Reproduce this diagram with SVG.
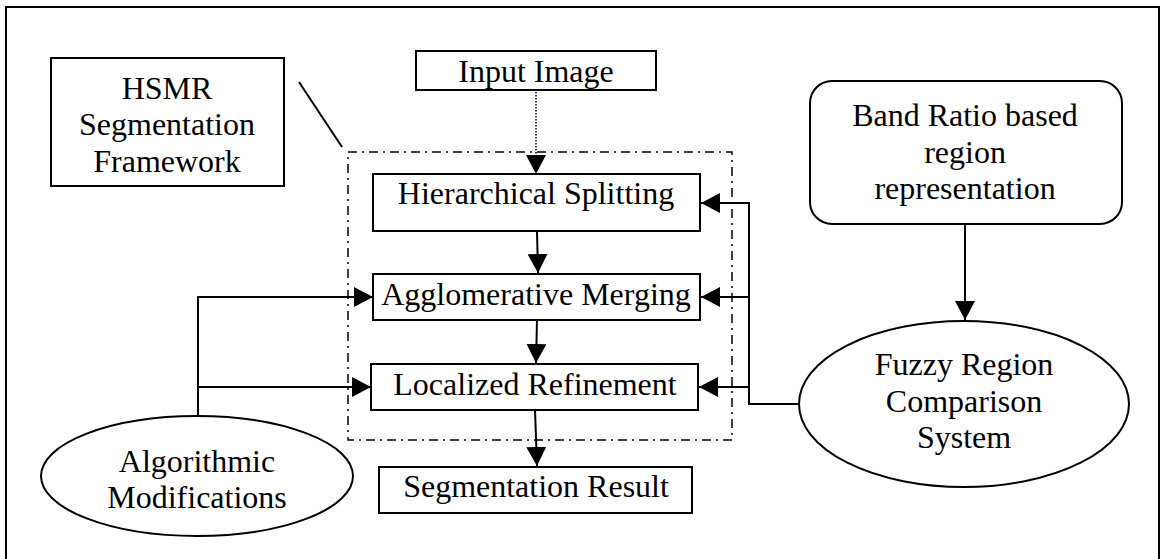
<svg xmlns="http://www.w3.org/2000/svg" width="1160" height="559" viewBox="0 0 1160 559">
<style>
.box{fill:#fff;stroke:#000;stroke-width:2}
.t{font-family:"Liberation Serif","Times New Roman",serif;font-size:32px;fill:#000;text-anchor:middle}
.c{fill:none;stroke:#000;stroke-width:2}
</style>
<defs>
<marker id="ah" markerUnits="userSpaceOnUse" markerWidth="20" markerHeight="20" refX="19" refY="10" orient="auto" viewBox="0 0 20 20">
<path d="M0,0 L19,10 L0,20 z" fill="#000"/>
</marker>
</defs>
<rect x="6" y="7" width="1153" height="560" fill="#fff" stroke="#000" stroke-width="2"/>
<g id="framework-label">
<rect class="box" x="51" y="58" width="233" height="128"/>
<text class="t" x="167" y="99">HSMR</text>
<text class="t" x="167" y="135">Segmentation</text>
<text class="t" x="167" y="172">Framework</text>
</g>
<g id="framework-boundary">
<rect x="348" y="152" width="384" height="288" fill="none" stroke="#000" stroke-width="1.5" stroke-dasharray="9,5,2,5"/>
</g>
<g id="input-image">
<rect class="box" x="416" y="51" width="240" height="39"/>
<text class="t" x="536" y="82">Input Image</text>
</g>
<g id="hierarchical-splitting">
<rect class="box" x="373" y="174" width="327" height="57"/>
<text class="t" x="536" y="204">Hierarchical Splitting</text>
</g>
<g id="agglomerative-merging">
<rect class="box" x="373" y="274" width="327" height="46"/>
<text class="t" x="536" y="305">Agglomerative Merging</text>
</g>
<g id="localized-refinement">
<rect class="box" x="371" y="364" width="327" height="46"/>
<text class="t" x="535" y="395">Localized Refinement</text>
</g>
<g id="segmentation-result">
<rect class="box" x="379" y="467" width="313" height="46"/>
<text class="t" x="536" y="497">Segmentation Result</text>
</g>
<g id="band-ratio">
<rect class="box" x="810" y="81" width="312" height="143" rx="22" ry="22"/>
<text class="t" x="965" y="126">Band Ratio based</text>
<text class="t" x="965" y="163">region</text>
<text class="t" x="965" y="199">representation</text>
</g>
<g id="fuzzy-region">
<ellipse class="box" cx="964" cy="404" rx="165" ry="83"/>
<text class="t" x="964" y="375">Fuzzy Region</text>
<text class="t" x="964" y="412">Comparison</text>
<text class="t" x="964" y="448">System</text>
</g>
<g id="algorithmic-modifications">
<ellipse class="box" cx="197" cy="476" rx="156" ry="60"/>
<text class="t" x="197" y="472">Algorithmic</text>
<text class="t" x="197" y="508">Modifications</text>
</g>
<g id="connectors">
<line x1="299" y1="82" x2="342" y2="147" class="c"/>
<line x1="536" y1="92" x2="536" y2="174" fill="none" stroke="#000" stroke-width="1.5" stroke-dasharray="1.5,1.5" marker-end="url(#ah)"/>
<line x1="537" y1="231" x2="538" y2="273" class="c" marker-end="url(#ah)"/>
<line x1="537" y1="320" x2="536" y2="363" class="c" marker-end="url(#ah)"/>
<line x1="535" y1="410" x2="537" y2="466" class="c" marker-end="url(#ah)"/>
<line x1="965" y1="224" x2="965" y2="320" class="c" marker-end="url(#ah)"/>
<path d="M799,404 H749 V203 H701" class="c" marker-end="url(#ah)"/>
<path d="M749,297 H701" class="c" marker-end="url(#ah)"/>
<path d="M749,387 H699" class="c" marker-end="url(#ah)"/>
<path d="M198,416 V297 H373" class="c" marker-end="url(#ah)"/>
<path d="M198,387 H371" class="c" marker-end="url(#ah)"/>
</g>
</svg>
